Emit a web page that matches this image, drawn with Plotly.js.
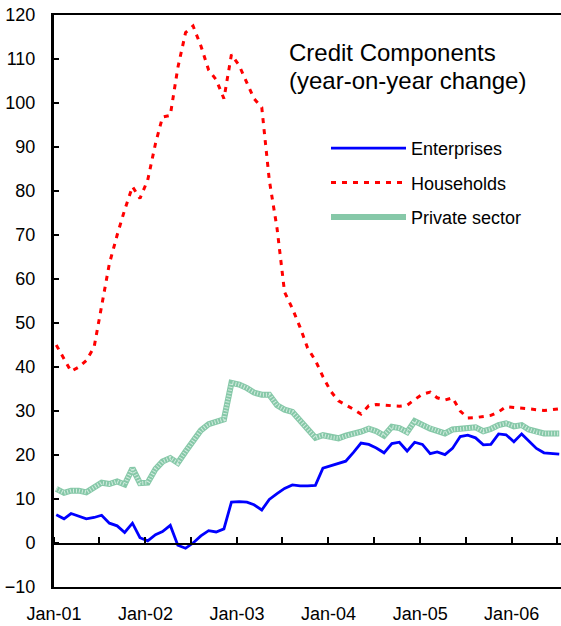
<!DOCTYPE html>
<html>
<head>
<meta charset="utf-8">
<script src="https://cdn.plot.ly/plotly-3.0.1.min.js"></script>
<style>html,body{margin:0;padding:0;background:#fff;}#chart{width:561px;height:626px;}</style>
</head>
<body>
<div id="chart"></div>
<script>
// Monthly observations, Jan-2001 .. Jul-2006
var startYear = 2001;
var nMonths = 67;
var enterprises = [6.4,5.5,6.7,6.1,5.5,5.8,6.3,4.5,3.9,2.4,4.5,1.2,0.5,1.9,2.6,4.0,-0.5,-1.2,0.0,1.6,2.8,2.5,3.2,9.3,9.4,9.3,8.7,7.5,9.9,11.2,12.4,13.2,13.0,13.0,13.1,17.0,17.5,18.0,18.6,20.6,22.7,22.4,21.6,20.5,22.6,22.9,20.9,22.9,22.4,20.3,20.7,20.1,21.5,24.2,24.5,23.9,22.3,22.4,24.8,24.6,23.0,24.8,23.3,21.5,20.5,20.4,20.2];
var households = [45,42,39,40,41.5,44.5,54,63.5,70,75.7,81,78.3,82.5,90.8,96.8,97.2,108,116,117.5,113,107.5,105.3,101,111,108.5,104.5,101,99,82.5,71.5,57,53.3,49,44.3,41.5,37.8,34.5,32.3,31.4,30.4,29.3,31.2,31.5,31.3,31.2,31.1,31.3,32.6,33.8,34.3,33,32.5,33,30,28.4,28.5,28.7,29,29.8,31,30.8,30.7,30.5,30.3,30.1,30.3,30.5];
var privateSector = [12.3,11.4,11.9,11.9,11.5,12.5,13.7,13.4,14,13.3,17,13.6,13.7,16.8,18.5,19.3,18.2,20.8,23.3,25.6,27,27.6,28.1,36.4,36.0,35.2,34.2,33.7,33.7,31.3,30.3,29.8,27.8,25.8,23.9,24.5,24,23.8,24.4,24.8,25.3,26,25.4,24.4,26.4,26.1,25.2,27.7,26.8,26,25.5,24.9,25.8,25.9,26,26.3,25.4,25.9,26.8,27.2,26.5,26.8,25.8,25.2,24.9,24.9,24.9];
var seriesNames = ["Enterprises","Households","Private sector"];
var chartTitle = ["Credit Components","(year-on-year change)"];

var dates = [];
for (var k = 0; k < nMonths; k++) {
  var y = startYear + Math.floor(k / 12);
  var m = (k % 12) + 1;
  dates.push(y + "-" + (m < 10 ? "0" + m : m) + "-10");
}

var FONT = "Liberation Sans, Arial, sans-serif";
var xRange = ["2001-01-01", "2006-07-17"];

var traces = [
  {x: dates, y: enterprises, name: seriesNames[0], type: "scatter", mode: "lines",
   line: {color: "#0000ff", width: 2.8}, legendgroup: "a", hoverinfo: "skip"},
  {x: dates, y: households, name: seriesNames[1], type: "scatter", mode: "lines",
   line: {color: "#ff0000", width: 3, dash: "5px,6px"}, legendgroup: "b", hoverinfo: "skip"},
  {x: dates, y: privateSector, name: seriesNames[2], type: "scatter", mode: "lines",
   line: {color: "#86c8a8", width: 6}, legendgroup: "c", hoverinfo: "skip"},
  {x: dates, y: privateSector, name: seriesNames[2], type: "scatter", mode: "lines",
   line: {color: "#d2ecdf", width: 4, dash: "1px,2px"}, legendgroup: "c", showlegend: false, hoverinfo: "skip"},
  {x: [dates[0]], y: [null], xaxis: "x2", yaxis: "y", type: "scatter", mode: "lines",
   showlegend: false, hoverinfo: "skip"}
];

var layout = {
  width: 561, height: 626,
  margin: {l: 54, r: 0, t: 15, b: 39, pad: 0},
  paper_bgcolor: "#fff", plot_bgcolor: "#fff",
  font: {family: FONT, size: 18, color: "#000"},
  showlegend: true,
  xaxis: {
    type: "date", range: xRange, showgrid: false, zeroline: false,
    showline: true, linecolor: "#000", linewidth: 2, mirror: true,
    ticks: "", tick0: "2001-01-01", dtick: "M12", tickformat: "%b-%y",
    tickfont: {family: FONT, size: 18, color: "#000"}, ticklabelstandoff: 9
  },
  xaxis2: {
    type: "date", range: xRange, overlaying: "x", anchor: "free", position: 43/572,
    side: "top", showgrid: false, zeroline: false, showline: true, linecolor: "#000", linewidth: 2,
    ticks: "outside", ticklen: 6, tickwidth: 2, tickcolor: "#000",
    tick0: "2001-01-01", dtick: "M6", showticklabels: false
  },
  yaxis: {
    range: [-10, 120], dtick: 10, tick0: 0, showgrid: false, zeroline: false,
    showline: true, linecolor: "#000", linewidth: 3,
    ticks: "inside", ticklen: 5, tickwidth: 2, tickcolor: "#000",
    tickfont: {family: FONT, size: 18, color: "#000"}, ticklabelstandoff: 12
  },
  legend: {
    x: (326 - 54) / 507, y: 1 - (130 - 15) / 572, xanchor: "left", yanchor: "top",
    bgcolor: "rgba(0,0,0,0)", borderwidth: 0, font: {family: FONT, size: 18, color: "#000"},
    traceorder: "grouped", tracegroupgap: 8, itemwidth: 75
  },
  annotations: [
    {text: chartTitle[0], xref: "paper", yref: "paper", x: (287 - 54) / 507, y: 1 - (52 - 15) / 572,
     xanchor: "left", yanchor: "middle", showarrow: false, font: {family: FONT, size: 24, color: "#000"}},
    {text: chartTitle[1], xref: "paper", yref: "paper", x: (287 - 54) / 507, y: 1 - (80 - 15) / 572,
     xanchor: "left", yanchor: "middle", showarrow: false, font: {family: FONT, size: 24, color: "#000"}}
  ]
};

Plotly.newPlot("chart", traces, layout, {displayModeBar: false, staticPlot: true});
</script>
</body>
</html>
